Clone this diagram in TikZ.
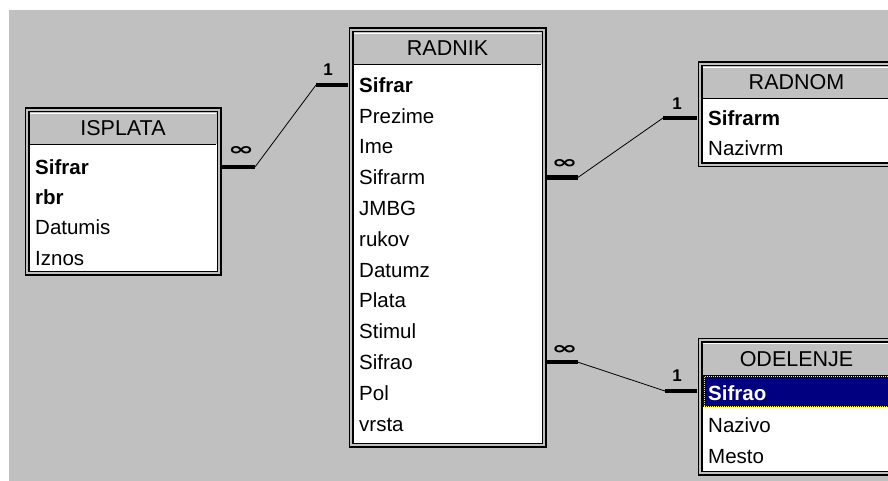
\documentclass[tikz,border=0pt]{standalone}
\usepackage{fontspec}
\setmainfont{Liberation Sans}
\newfontfamily\markfont{DejaVu Sans}
\usepackage{amsmath}
\usepackage{xcolor}
\definecolor{WinGray}{HTML}{C0C0C0}
\definecolor{SelNavy}{HTML}{000080}
\definecolor{FocusYellow}{HTML}{FFFF00}

\begin{document}
\begin{tikzpicture}[x=1pt,y=-1pt,
  tableframe/.style={draw=black,line width=1.5pt,double=WinGray,double distance=2pt,inner sep=0pt,outer sep=3pt},
  tabletitle/.style={inner sep=0pt,font=\fontsize{21.5}{21.5}\selectfont},
  field/.style={anchor=west,inner sep=0pt,text height=14.5pt,text depth=0pt,font=\fontsize{20.5}{20.5}\selectfont},
  keyfield/.style={field,font=\fontsize{20.5}{20.5}\selectfont\bfseries},
  keybar/.style={line width=4.5pt},
  relline/.style={line width=0.8pt},
  manymark/.style={inner sep=0pt},
  onemark/.style={inner sep=0pt,font=\fontsize{17}{17}\selectfont\bfseries}]
\useasboundingbox (0,0) rectangle (888,481);
\clip (0,0) rectangle (888,481);
\fill[white] (0,0) rectangle (888,481);
\fill[WinGray] (9,10) rectangle (888,481);

% ISPLATA
\fill[white] (29,112) rectangle (217,271);
\fill[WinGray] (29,112) rectangle (217,144);
\draw[white,line width=1pt] (30,113.5) -- (216,113.5);
\draw[line width=1pt] (30,144.5) -- (216,144.5);
\node[tableframe,minimum width=192pt,minimum height=163pt] (isplata) at (123,191.5) {};
\node[tabletitle] (isplata-title) at (123,128.5) {ISPLATA};
\node[keyfield] (isplata-sifrar) at (35,167) {Sifrar};
\node[keyfield] (isplata-rbr) at (35,197) {rbr};
\node[field] (isplata-datumis) at (35,227.5) {Datumis};
\node[field] (isplata-iznos) at (35,258) {Iznos};

% RADNIK
\fill[white] (353,32) rectangle (542,443);
\fill[WinGray] (353,32) rectangle (542,64);
\draw[white,line width=1pt] (354,33.5) -- (541,33.5);
\draw[line width=1pt] (354,64.5) -- (541,64.5);
\node[tableframe,minimum width=193pt,minimum height=415pt] (radnik) at (447.5,237.5) {};
\node[tabletitle] (radnik-title) at (447.5,48.5) {RADNIK};
\node[keyfield] (radnik-sifrar) at (359,85) {Sifrar};
\foreach \txt/\id [count=\i] in {Prezime/prezime,Ime/ime,Sifrarm/sifrarm,JMBG/jmbg,rukov/rukov,Datumz/datumz,Plata/plata,Stimul/stimul,Sifrao/sifrao,Pol/pol,vrsta/vrsta}
  \node[field] (radnik-\id) at (359,85+30.8*\i) {\txt};

% RADNOM
\fill[white] (702,66) rectangle (895,164);
\fill[WinGray] (702,66) rectangle (895,98);
\draw[white,line width=1pt] (703,67.5) -- (895,67.5);
\draw[line width=1pt] (703,98.5) -- (895,98.5);
\node[tableframe,minimum width=193pt,minimum height=101pt] (radnom) at (796.5,114.5) {};
\node[tabletitle] (radnom-title) at (796.5,82.5) {RADNOM};
\node[keyfield] (radnom-sifrarm) at (708,118) {Sifrarm};
\node[field] (radnom-nazivrm) at (708,148) {Nazivrm};

% ODELENJE
\fill[white] (702,342) rectangle (895,472);
\fill[WinGray] (702,342) rectangle (895,375);
\draw[white,line width=1pt] (703,343.5) -- (895,343.5);
\draw[line width=1pt] (703,375.5) -- (895,375.5);
\fill[SelNavy] (703,376) rectangle (893,407);
\draw[line width=1pt] (704,376.5) rectangle (892,406.5);
\draw[FocusYellow,line width=1pt,dash pattern=on 1pt off 1pt] (704,376.5) rectangle (892,406.5);
\node[tableframe,minimum width=193pt,minimum height=133pt] (odelenje) at (796.5,406.5) {};
\node[tabletitle] (odelenje-title) at (796.5,359.5) {ODELENJE};
\node[keyfield,text=white] (odelenje-sifrao) at (708,393) {Sifrao};
\node[field] (odelenje-nazivo) at (708,425.5) {Nazivo};
\node[field] (odelenje-mesto) at (708,456) {Mesto};

% relations
\draw[keybar] (isplata.east |- isplata-sifrar) -- ++(33,0) coordinate (isplata-many);
\draw[keybar] (radnik.west |- radnik-sifrar) -- ++(-32,0) coordinate (radnik-one);
\draw[relline] (isplata-many) -- (radnik-one);
\node[manymark] (isplata-inf) at ([shift={(-14,-16)}]isplata-many) {\resizebox{26pt}{9pt}{\markfont\bfseries ∞}};
\node[onemark] (radnik-1) at ([shift={(12,-15)}]radnik-one) {1};

\draw[keybar] (radnik.east |- radnik-sifrarm) -- ++(31,0) coordinate (radnik-many-m);
\draw[keybar] (radnom.west |- radnom-sifrarm) -- ++(-34,0) coordinate (radnom-one);
\draw[relline] (radnik-many-m) -- (radnom-one);
\node[manymark] (radnik-inf-m) at ([shift={(-13.5,-13.5)}]radnik-many-m) {\resizebox{26pt}{9pt}{\markfont\bfseries ∞}};
\node[onemark] (radnom-1) at ([shift={(14,-14.5)}]radnom-one) {1};

\draw[keybar] (radnik.east |- radnik-sifrao) -- ++(31,0) coordinate (radnik-many-o);
\draw[keybar] ([yshift=2pt]odelenje.west |- odelenje-sifrao) -- ++(-32,0) coordinate (odelenje-one);
\draw[relline] (radnik-many-o) -- (odelenje-one);
\node[manymark] (radnik-inf-o) at ([shift={(-13.5,-12.5)}]radnik-many-o) {\resizebox{26pt}{9pt}{\markfont\bfseries ∞}};
\node[onemark] (odelenje-1) at ([shift={(12,-15)}]odelenje-one) {1};
\end{tikzpicture}
\end{document}
